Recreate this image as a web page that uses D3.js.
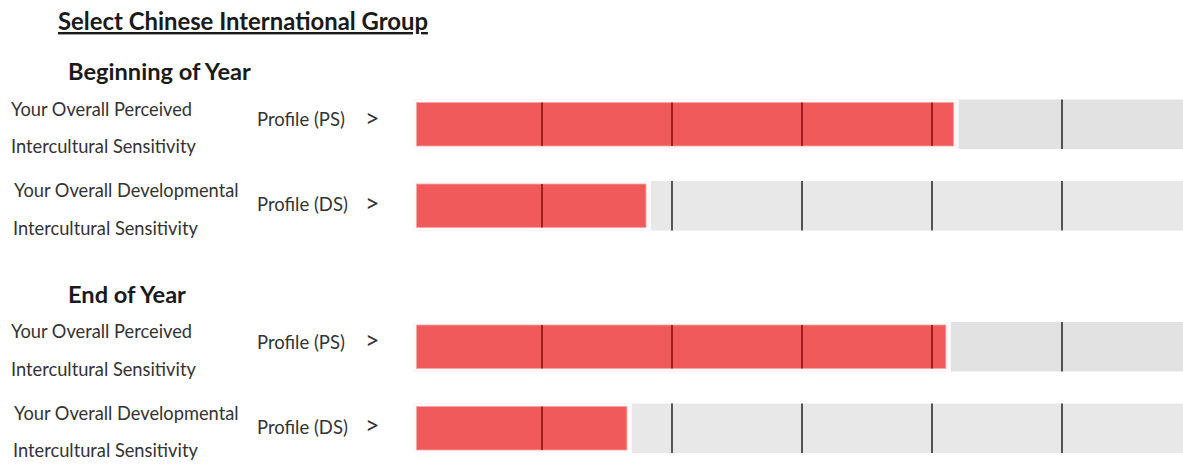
<!DOCTYPE html>
<html>
<head>
<meta charset="utf-8">
<script src="https://cdn.jsdelivr.net/npm/d3@7"></script>
<style>
  html, body { margin: 0; padding: 0; background: #fff; }
  svg { display: block; }
  text { font-family: Lato, "Open Sans", "DejaVu Sans", sans-serif; }
</style>
</head>
<body>
<svg id="chart" width="1183" height="464"></svg>
<script>
// ---------------- data ----------------
const chartTitle = "Select Chinese International Group";
const periods = ["Beginning of Year", "End of Year"];
const labelLine1 = ["Your Overall Perceived", "Your Overall Developmental"];
const labelLine2 = ["Intercultural Sensitivity", "Intercultural Sensitivity"];
const profiles = ["Profile (PS)", "Profile (DS)"];
// scores per period: [PS, DS]
const beginningScores = [117.5, 82.0];
const endScores = [116.6, 79.8];
const scaleDomain = [55, 145];
const stageTicks = [70, 85, 100, 115, 130];

// ---------------- layout ----------------
const svg = d3.select("#chart");
const x = d3.scaleLinear().domain(scaleDomain).range([412, 1192]);

const sectionTop = [99.5, 322];     // top of first track in each section
const rowStep = 81.5;
const trackH = 49.5;
const inset = 3;
const trackColors = ["#e2e2e2", "#e8e8e8"];
const red = "#f05a5a";

const scoreSets = [beginningScores, endScores];

// helper: fit font size so that reference text has a given width
function fitSize(text, weight, targetW, base) {
  const t = svg.append("text").attr("font-size", base).attr("font-weight", weight).text(text);
  const w = t.node().getComputedTextLength();
  t.remove();
  return base * targetW / w;
}
const titleSize = fitSize(chartTitle, "bold", 370, 20);
const headSize = fitSize(periods[0], "bold", 183, 19);
const labelSize = fitSize(labelLine2[0], "normal", 185, 15);
const profSize = fitSize(profiles[0], "normal", 88, 15);

// title
svg.append("text")
  .attr("x", 58).attr("y", 30)
  .attr("font-size", titleSize).attr("font-weight", "bold")
  .attr("fill", "#1a1a1a")
  .attr("text-decoration", "underline")
  .text(chartTitle);

const sections = svg.selectAll("g.section")
  .data(periods.map((p, i) => ({ period: p, scores: scoreSets[i], top: sectionTop[i] })))
  .join("g").attr("class", "section");

sections.append("text")
  .attr("x", 68).attr("y", d => d.top - 19.5)
  .attr("font-size", headSize).attr("font-weight", "bold")
  .attr("fill", "#1a1a1a")
  .text(d => d.period);

sections.each(function(sec) {
  const g = d3.select(this);
  const rows = sec.scores.map((v, i) => ({
    v, i, y: sec.top + i * rowStep,
    l1: labelLine1[i], l2: labelLine2[i], prof: profiles[i]
  }));
  const rg = g.selectAll("g.row").data(rows).join("g").attr("class", "row");

  // labels
  rg.append("text")
    .attr("x", d => d.i === 0 ? 11 : 14)
    .attr("y", d => d.y + 16)
    .attr("font-size", labelSize).attr("fill", "#333")
    .text(d => d.l1);
  rg.append("text")
    .attr("x", d => d.i === 0 ? 11 : 13)
    .attr("y", d => d.y + 53.5)
    .attr("font-size", labelSize).attr("fill", "#333")
    .text(d => d.l2);
  rg.append("text")
    .attr("x", 257)
    .attr("y", d => d.y + 26.5 + d.i * 3.5)
    .attr("font-size", profSize).attr("fill", "#333")
    .text(d => d.prof);
  rg.append("text")
    .attr("x", 365)
    .attr("y", d => d.y + 27 + d.i * 3.5)
    .attr("font-size", profSize * 1.35).attr("fill", "#333")
    .text(">");

  // track
  rg.append("rect")
    .attr("x", x(scaleDomain[0]))
    .attr("y", d => d.y)
    .attr("width", x(scaleDomain[1]) - x(scaleDomain[0]))
    .attr("height", trackH)
    .attr("fill", d => trackColors[d.i]);

  // halo
  rg.append("rect")
    .attr("x", x(scaleDomain[0]))
    .attr("y", d => d.y)
    .attr("width", d => x(d.v) + 5 - x(scaleDomain[0]))
    .attr("height", trackH)
    .attr("fill", "#fffafa");

  // red bar
  rg.append("rect")
    .attr("x", x(scaleDomain[0]) + 4.5)
    .attr("y", d => d.y + inset)
    .attr("width", d => x(d.v) - x(scaleDomain[0]) - 4.5)
    .attr("height", trackH - 2 * inset)
    .attr("fill", red)
    .attr("stroke", "#f6a9a9").attr("stroke-width", 0.8);

  // stage ticks
  rg.each(function(d) {
    d3.select(this).selectAll("line.tick")
      .data(stageTicks)
      .join("line").attr("class", "tick")
      .attr("x1", t => x(t)).attr("x2", t => x(t))
      .attr("y1", t => t < d.v ? d.y + inset : d.y)
      .attr("y2", t => t < d.v ? d.y + trackH - inset : d.y + trackH)
      .attr("stroke", t => t < d.v ? "#8c1010" : "#2e2e2e")
      .attr("stroke-width", 1.6);
  });
});
</script>
</body>
</html>
